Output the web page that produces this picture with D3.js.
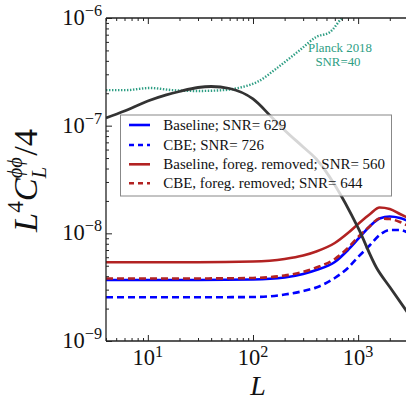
<!DOCTYPE html>
<html><head><meta charset="utf-8">
<script src="https://cdn.jsdelivr.net/npm/d3@7"></script>
<style>body{margin:0;background:#fff}svg{display:block}</style>
</head><body><svg id="c" width="406" height="402"></svg>
<script>
// ---- data ----
const L = [4, 10, 30, 100, 200, 300, 400, 600, 800, 1000, 1300, 1600, 2000, 2500, 3000];
const baseline     = [3.69e-9, 3.69e-9, 3.69e-9, 3.73e-9, 3.89e-9, 4.19e-9, 4.56e-9, 5.42e-9, 7.00e-9, 8.86e-9, 1.17e-8, 1.373e-8, 1.434e-8, 1.388e-8, 1.302e-8];
const cbe          = [2.55e-9, 2.55e-9, 2.55e-9, 2.56e-9, 2.70e-9, 2.91e-9, 3.14e-9, 3.85e-9, 4.77e-9, 6.03e-9, 7.79e-9, 9.65e-9, 1.074e-8, 1.074e-8, 1.007e-8];
const baselineFg   = [5.38e-9, 5.38e-9, 5.38e-9, 5.47e-9, 5.78e-9, 6.22e-9, 6.78e-9, 8.13e-9, 1.007e-8, 1.221e-8, 1.512e-8, 1.738e-8, 1.683e-8, 1.512e-8, 1.388e-8];
const cbeFg        = [3.81e-9, 3.81e-9, 3.81e-9, 3.85e-9, 4.06e-9, 4.38e-9, 4.82e-9, 5.78e-9, 7.31e-9, 9.25e-9, 1.17e-8, 1.373e-8, 1.359e-8, 1.274e-8, 1.17e-8];

const Lth = [4, 6, 10, 15, 20, 30, 40, 60, 100, 150, 200, 300, 400, 600, 1000, 1500, 2000, 3000];
const theory = [1.18e-7, 1.368e-7, 1.695e-7, 1.93e-7, 2.077e-7, 2.262e-7, 2.31e-7, 2.214e-7, 1.769e-7, 1.203e-7, 9.08e-8, 6.34e-8, 4.9e-8, 2.81e-8, 1.121e-8, 4.77e-9, 3.17e-9, 1.80e-9];

const Lpl = [4, 6.2, 10.5, 17, 30, 53, 80, 110, 170, 280, 400, 540, 700, 850];
const planck = [2.14e-7, 2.14e-7, 2.24e-7, 2.14e-7, 2.10e-7, 2.14e-7, 2.29e-7, 2.55e-7, 3.44e-7, 5.05e-7, 6.67e-7, 7.41e-7, 1.0e-6, 1.2e-6];

const legendLabels = ["Baseline; SNR= 629", "CBE; SNR= 726", "Baseline, foreg. removed; SNR= 560", "CBE, foreg. removed; SNR= 644"];
const xTicks = [10, 100, 1000];
const xTickExp = ["1", "2", "3"];
const yTicks = [1e-9, 1e-8, 1e-7, 1e-6];
const yTickExp = ["\u22129", "\u22128", "\u22127", "\u22126"];
const planckLabel = ["Planck 2018", "SNR=40"];

// ---- chart ----
const svg = d3.select("#c");
const FONT = "'Liberation Serif', 'Times New Roman', serif";
const x = d3.scaleLog().domain([4, 3000]).range([106, 408.3]);
const y = d3.scaleLog().domain([1e-9, 1e-6]).range([341, 18]);

function fitSize(sel, base, target) {
  const w = sel.node().getComputedTextLength();
  return w > 0 ? base * target / w : base;
}

svg.append("defs").append("clipPath").attr("id", "clip")
  .append("rect").attr("x", 106).attr("y", 18).attr("width", 302.3).attr("height", 323);

const plot = svg.append("g").attr("clip-path", "url(#clip)");
const line = (xs, ys) => d3.line().x((d, i) => x(xs[i])).y(d => y(d)).curve(d3.curveMonotoneX)(ys);

const series = [
  {v: baseline,   color: "#0000ff", dash: null},
  {v: cbe,        color: "#0000ff", dash: "7,4"},
  {v: baselineFg, color: "#b22222", dash: null},
  {v: cbeFg,      color: "#b22222", dash: "7,4"}
];
series.forEach(s => {
  plot.append("path").attr("d", line(L, s.v)).attr("fill", "none")
    .attr("stroke", s.color).attr("stroke-width", 2.6)
    .attr("stroke-dasharray", s.dash);
});
plot.append("path").attr("d", line(Lpl, planck)).attr("fill", "none")
  .attr("stroke", "#2e9e84").attr("stroke-width", 2.4).attr("stroke-dasharray", "1.4,1.6");
plot.append("path").attr("d", line(Lth, theory)).attr("fill", "none")
  .attr("stroke", "#333333").attr("stroke-width", 2.8);

// Planck label
const pl0 = svg.append("text").attr("font-family", FONT).attr("font-size", 13).text(planckLabel[0]);
const plSize = fitSize(pl0, 13, 64);
pl0.remove();
planckLabel.forEach((t, i) => {
  svg.append("text").attr("x", i ? 338 : 340).attr("y", i ? 66 : 52)
    .attr("text-anchor", "middle").attr("font-family", FONT).attr("font-size", plSize)
    .attr("fill", "#2e9e84").text(t);
});

// axes
const minorX = [];
for (let e = 0; e <= 3; e++) for (let m = 2; m <= 9; m++) { const v = m * Math.pow(10, e); if (v >= 4 && v <= 3000) minorX.push(v); }
const minorY = [];
for (let e = -9; e <= -7; e++) for (let m = 2; m <= 9; m++) minorY.push(m * Math.pow(10, e));

function styleAxis(g) { g.select(".domain").remove(); g.selectAll(".tick line").attr("stroke", "#222").attr("stroke-width", 1); g.selectAll(".tick text").remove(); }

svg.append("g").attr("transform", "translate(0,341)").call(d3.axisBottom(x).tickValues(minorX).tickSize(-3).tickFormat("")).call(styleAxis);
svg.append("g").attr("transform", "translate(0,341)").call(d3.axisBottom(x).tickValues(xTicks).tickSize(-6).tickFormat("")).call(styleAxis);
svg.append("g").attr("transform", "translate(0,18)").call(d3.axisTop(x).tickValues(minorX).tickSize(-3).tickFormat("")).call(styleAxis);
svg.append("g").attr("transform", "translate(0,18)").call(d3.axisTop(x).tickValues(xTicks).tickSize(-6).tickFormat("")).call(styleAxis);
svg.append("g").attr("transform", "translate(106,0)").call(d3.axisLeft(y).tickValues(minorY).tickSize(-3).tickFormat("")).call(styleAxis);
svg.append("g").attr("transform", "translate(106,0)").call(d3.axisLeft(y).tickValues(yTicks).tickSize(-6).tickFormat("")).call(styleAxis);

// spines
svg.append("line").attr("x1", 106).attr("x2", 106).attr("y1", 18).attr("y2", 341).attr("stroke", "#222").attr("stroke-width", 1.3);
svg.append("line").attr("x1", 106).attr("x2", 408).attr("y1", 341).attr("y2", 341).attr("stroke", "#222").attr("stroke-width", 1.3);
svg.append("line").attr("x1", 106).attr("x2", 408).attr("y1", 18).attr("y2", 18).attr("stroke", "#222").attr("stroke-width", 1.3);

// tick labels
const probe = svg.append("text").attr("font-family", FONT).attr("font-size", 23).text("10");
const tickSize = fitSize(probe, 23, 22.5);
probe.remove();
const supSize = tickSize * 0.72;
xTicks.forEach((v, i) => {
  const t = svg.append("text").attr("x", x(v)).attr("y", 365).attr("text-anchor", "middle")
    .attr("font-family", FONT).attr("font-size", tickSize).attr("fill", "#111");
  t.append("tspan").text("10");
  t.append("tspan").attr("dy", -8).attr("font-size", supSize).text(xTickExp[i]);
});
yTicks.forEach((v, i) => {
  const t = svg.append("text").attr("x", 102).attr("y", y(v) + 7).attr("text-anchor", "end")
    .attr("font-family", FONT).attr("font-size", tickSize).attr("fill", "#111");
  t.append("tspan").text("10");
  t.append("tspan").attr("dy", -9).attr("font-size", supSize).text(yTickExp[i]);
});

// axis labels
svg.append("text").attr("x", 258).attr("y", 395).attr("text-anchor", "middle")
  .attr("font-family", FONT).attr("font-size", 28).attr("font-style", "italic").attr("fill", "#111").text("L");

const yl = svg.append("text").attr("text-anchor", "start")
  .attr("font-family", FONT).attr("font-size", 27).attr("fill", "#111");
yl.append("tspan").attr("font-style", "italic").text("L");
yl.append("tspan").attr("font-size", 18).attr("dy", -11).text("4");
yl.append("tspan").attr("font-style", "italic").attr("dy", 11).text("C");
const phi = yl.append("tspan").attr("font-size", 16).attr("font-style", "italic").attr("dy", -12).text("\u03d5\u03d5");
const phiW = phi.node().getComputedTextLength();
const lsub = yl.append("tspan").attr("font-size", 16).attr("font-style", "italic").attr("dx", -phiW).attr("dy", 19).text("L");
const lW = lsub.node().getComputedTextLength();
yl.append("tspan").attr("dx", Math.max(0, phiW - lW) + 1).attr("dy", -7).text("/4");
const ylW = yl.node().getBBox().width;
const k = 105 / ylW;
yl.attr("transform", `translate(37,232) rotate(-90) scale(${k})`);

// legend
const lg = svg.append("g");
lg.append("rect").attr("x", 120.5).attr("y", 115).attr("width", 271).attr("height", 81)
  .attr("fill", "#fff").attr("fill-opacity", 0.8).attr("stroke", "#888").attr("stroke-width", 1);
const rowY = [125, 145, 164.3, 183.3];
const lp = lg.append("text").attr("font-family", FONT).attr("font-size", 15).text(legendLabels[0]);
const legSize = fitSize(lp, 15, 123);
lp.remove();
series.forEach((s, i) => {
  lg.append("line").attr("x1", 129).attr("x2", 150).attr("y1", rowY[i]).attr("y2", rowY[i])
    .attr("stroke", s.color).attr("stroke-width", 2.6).attr("stroke-dasharray", s.dash ? "5,4" : null);
  lg.append("text").attr("x", 163.3).attr("y", rowY[i] + 5).attr("font-family", FONT)
    .attr("font-size", legSize).attr("fill", "#111").text(legendLabels[i]);
});
</script></body></html>
